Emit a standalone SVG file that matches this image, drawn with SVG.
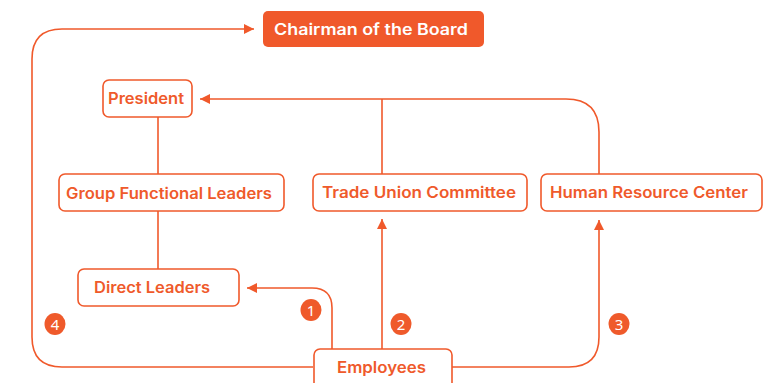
<svg xmlns="http://www.w3.org/2000/svg" width="767" height="383" viewBox="0 0 767 383">
<defs>
<style>
.box{fill:#fff;stroke:#F0592B;stroke-width:1.6}
.lbl{font-family:Inter,"Noto Sans",sans-serif;font-weight:600;font-size:15.5px;fill:#EF5A2B;text-anchor:middle;dominant-baseline:central}
.ln{fill:none;stroke:#F0592B;stroke-width:1.6}
.badge{fill:#EF5A2B}
.bt{font-family:"Noto Sans",sans-serif;font-size:15px;fill:#fff;text-anchor:middle;dominant-baseline:central}
</style>
<marker id="ah" viewBox="0 0 10 10" refX="10" refY="5" markerWidth="10" markerHeight="10" markerUnits="userSpaceOnUse" orient="auto">
<path d="M0,0 L10,5 L0,10 z" fill="#F0592B"/>
</marker>
</defs>
<rect width="767" height="383" fill="#fff"/>
<g id="connectors">
<path class="ln" d="M158,117 V174"/>
<path class="ln" d="M158,211 V269"/>
<path class="ln" d="M599,174 V132 Q599,99 566,99 H200" marker-end="url(#ah)"/>
<path class="ln" d="M382,174 V99"/>
<path class="ln" d="M313,367 H62 Q32,367 32,337 V59 Q32,29 62,29 H254" marker-end="url(#ah)"/>
<path class="ln" d="M452,367 H569 Q599,367 599,337 V220" marker-end="url(#ah)"/>
<path class="ln" d="M382,349 V219" marker-end="url(#ah)"/>
<path class="ln" d="M332,349 V308 Q332,288 312,288 H247" marker-end="url(#ah)"/>
</g>
<g id="chairman">
<rect x="263" y="11" width="221" height="36" rx="5" fill="#F0592B"/>
<text class="lbl" x="371" y="29.5" style="fill:#fff" textLength="194" lengthAdjust="spacingAndGlyphs">Chairman of the Board</text>
</g>
<g id="president">
<rect class="box" x="103" y="80" width="89" height="37" rx="6"/>
<text class="lbl" x="146" y="98.5" textLength="76" lengthAdjust="spacingAndGlyphs">President</text>
</g>
<g id="group-functional-leaders">
<rect class="box" x="59" y="174" width="225" height="37" rx="6"/>
<text class="lbl" x="169" y="193" textLength="206" lengthAdjust="spacingAndGlyphs">Group Functional Leaders</text>
</g>
<g id="trade-union-committee">
<rect class="box" x="313" y="174" width="214" height="37" rx="6"/>
<text class="lbl" x="419" y="192.5" textLength="194" lengthAdjust="spacingAndGlyphs">Trade Union Committee</text>
</g>
<g id="human-resource-center">
<rect class="box" x="541" y="174" width="221" height="37" rx="6"/>
<text class="lbl" x="649" y="192.5" textLength="198" lengthAdjust="spacingAndGlyphs">Human Resource Center</text>
</g>
<g id="direct-leaders">
<rect class="box" x="78" y="269" width="161" height="37" rx="6"/>
<text class="lbl" x="152" y="287.5" textLength="116" lengthAdjust="spacingAndGlyphs">Direct Leaders</text>
</g>
<g id="employees">
<rect class="box" x="314" y="349" width="138" height="40" rx="6"/>
<text class="lbl" x="381.5" y="367" textLength="89" lengthAdjust="spacingAndGlyphs">Employees</text>
</g>
<g id="badges">
<ellipse class="badge" cx="311" cy="310" rx="10.5" ry="11"/>
<text class="bt" x="311" y="310">1</text>
<ellipse class="badge" cx="401" cy="324" rx="10.5" ry="11"/>
<text class="bt" x="401" y="324">2</text>
<ellipse class="badge" cx="619" cy="324" rx="10.5" ry="11"/>
<text class="bt" x="619" y="324">3</text>
<ellipse class="badge" cx="55" cy="324" rx="10.5" ry="11"/>
<text class="bt" x="55" y="324">4</text>
</g>
</svg>
